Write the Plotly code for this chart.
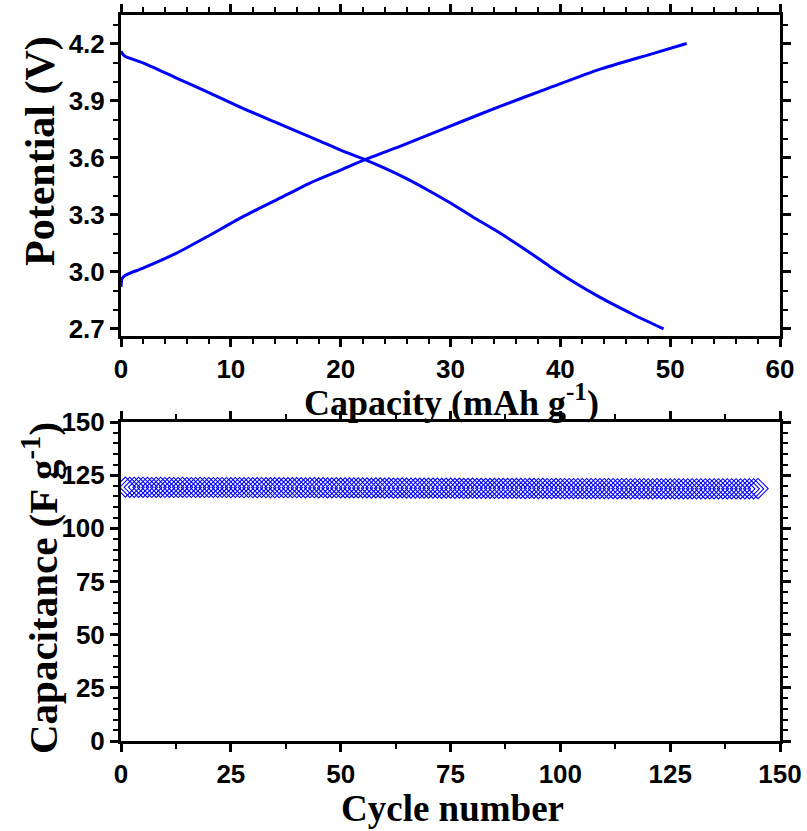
import plotly.graph_objects as go

# Galvanostatic charge curve (capacity mAh/g, potential V)
charge_cap = [0.0, 0.1, 0.4, 0.8, 2.0, 5.1, 8.0, 11.1, 14.2, 17.2, 20.0, 22.2, 25.4, 28.0, 30.8, 34.5, 39.0, 43.5, 48.1, 51.5]
charge_v   = [2.92, 2.965, 2.982, 2.993, 3.02, 3.10, 3.19, 3.29, 3.38, 3.467, 3.535, 3.59, 3.66, 3.72, 3.785, 3.87, 3.967, 4.063, 4.142, 4.20]

# Discharge curve
dis_cap = [0.0, 0.15, 0.36, 2.0, 5.0, 8.1, 11.0, 14.2, 18.0, 20.0, 22.2, 24.0, 26.0, 28.0, 30.0, 32.0, 34.5, 37.0, 39.0, 41.0, 43.5, 46.5, 49.4]
dis_v   = [4.16, 4.145, 4.133, 4.098, 4.02, 3.94, 3.862, 3.783, 3.69, 3.64, 3.59, 3.545, 3.49, 3.428, 3.362, 3.29, 3.204, 3.11, 3.03, 2.955, 2.87, 2.78, 2.70]

# Cycling stability
cycles = list(range(1, 146))
capacitance = (
    [119.4, 119.3, 119.3, 119.3, 119.3, 119.3, 119.2, 119.3, 119.3, 119.2,
     119.3, 119.2, 119.2, 119.3, 119.2, 119.2, 119.2, 119.3, 119.2, 119.2,
     119.2, 119.2, 119.2, 119.2, 119.1, 119.2, 119.2, 119.1, 119.2, 119.1,
     119.1, 119.2, 119.1, 119.1, 119.1, 119.1, 119.1, 119.1, 119.1, 119.1,
     119.1, 119.0, 119.1, 119.1, 119.0, 119.1, 119.0, 119.0, 119.1, 119.0,
     119.0, 119.0, 119.0, 119.0, 119.0, 119.0, 118.9, 119.0, 119.0, 118.9,
     119.0, 118.9, 118.9, 119.0, 118.9, 118.9, 118.9, 118.9, 118.9, 118.9,
     118.9, 118.9, 118.8, 118.9, 118.9, 118.8, 118.9, 118.8, 118.8, 118.9,
     118.8, 118.8, 118.8, 118.8, 118.8, 118.8, 118.8, 118.8, 118.8, 118.8,
     118.8, 118.7, 118.8, 118.8, 118.7, 118.8, 118.7, 118.7, 118.8, 118.7,
     118.7, 118.7, 118.7, 118.7, 118.7, 118.7, 118.7, 118.7, 118.7, 118.7,
     118.7, 118.7, 118.6, 118.7, 118.7, 118.6, 118.7, 118.6, 118.7, 118.6,
     118.6, 118.7, 118.6, 118.6, 118.6, 118.6, 118.6, 118.6, 118.6, 118.6,
     118.6, 118.6, 118.6, 118.6, 118.6, 118.6, 118.6, 118.6, 118.6, 118.6,
     118.6, 118.6, 118.6, 118.6, 118.7]
)

BLUE = "#0000FF"
TICKFONT = dict(family="Liberation Sans Narrow, Liberation Sans, Arial Narrow", size=26, color="black", weight="bold")
SERIF = "Liberation Serif, Times New Roman"

fig = go.Figure()
fig.add_trace(go.Scatter(x=charge_cap, y=charge_v, mode="lines", line=dict(color=BLUE, width=3, shape="spline", smoothing=0.6),
                         xaxis="x", yaxis="y", showlegend=False))
fig.add_trace(go.Scatter(x=dis_cap, y=dis_v, mode="lines", line=dict(color=BLUE, width=3, shape="spline", smoothing=0.6),
                         xaxis="x", yaxis="y", showlegend=False))
fig.add_trace(go.Scatter(x=cycles, y=capacitance, mode="markers",
                         marker=dict(symbol="diamond-open", size=15.5, color=BLUE, line=dict(width=1.1, color=BLUE)),
                         xaxis="x2", yaxis="y2", showlegend=False))

axis_common = dict(showline=True, linecolor="black", linewidth=3, mirror="allticks",
                   ticks="outside", ticklen=8, tickwidth=3, tickcolor="black", automargin=False,
                   showgrid=False, zeroline=False, tickfont=TICKFONT)

W, H = 807, 831
L, R, T, B = 121, 780, 15, 741

def px(x):
    return (x - L) / (R - L)

def py(y):
    return (B - y) / (B - T)

fig.update_layout(
    width=W, height=H,
    margin=dict(l=L, r=W - R, t=T, b=H - B, autoexpand=False),
    plot_bgcolor="white", paper_bgcolor="white",
    xaxis=dict(domain=[0, 1], range=[0, 60], dtick=10, tick0=0, anchor="y",
               minor=dict(dtick=2, ticklen=5, tickwidth=2, ticks="outside", tickcolor="black"),
               **axis_common),
    yaxis=dict(domain=[py(336), 1], range=[2.663, 4.35], dtick=0.3, tick0=2.7, tickformat=".1f", anchor="x",
               minor=dict(dtick=0.1, tick0=2.7, ticklen=5, tickwidth=2, ticks="outside", tickcolor="black"),
               **axis_common),
    xaxis2=dict(domain=[0, 1], range=[0, 150], dtick=25, tick0=0, anchor="y2",
                minor=dict(dtick=12.5, ticklen=5, tickwidth=2, ticks="outside", tickcolor="black"),
                **axis_common),
    yaxis2=dict(domain=[0, py(422)], range=[0, 150], dtick=25, tick0=0, anchor="x2",
                minor=dict(dtick=5, ticklen=5, tickwidth=2, ticks="outside", tickcolor="black"),
                **axis_common),
    annotations=[
        dict(text="Potential (V)", x=px(40), y=py(151), xref="paper", yref="paper", textangle=-90,
             showarrow=False, font=dict(family=SERIF, size=42, color="black", weight="bold"),
             xanchor="center", yanchor="middle"),
        dict(text="Capacity (mAh g<sup>-1</sup>)", x=px(451), y=py(400), xref="paper", yref="paper",
             showarrow=False, font=dict(family=SERIF, size=36, color="black", weight="bold"),
             xanchor="center", yanchor="middle"),
        dict(text="Capacitance (F g<sup>-1</sup>)", x=px(40), y=py(588), xref="paper", yref="paper", textangle=-90,
             showarrow=False, font=dict(family=SERIF, size=41, color="black", weight="bold"),
             xanchor="center", yanchor="middle"),
        dict(text="Cycle number", x=px(452), y=py(808), xref="paper", yref="paper",
             showarrow=False, font=dict(family=SERIF, size=37, color="black", weight="bold"),
             xanchor="center", yanchor="middle"),
    ],
)

fig.write_html("out.html")
